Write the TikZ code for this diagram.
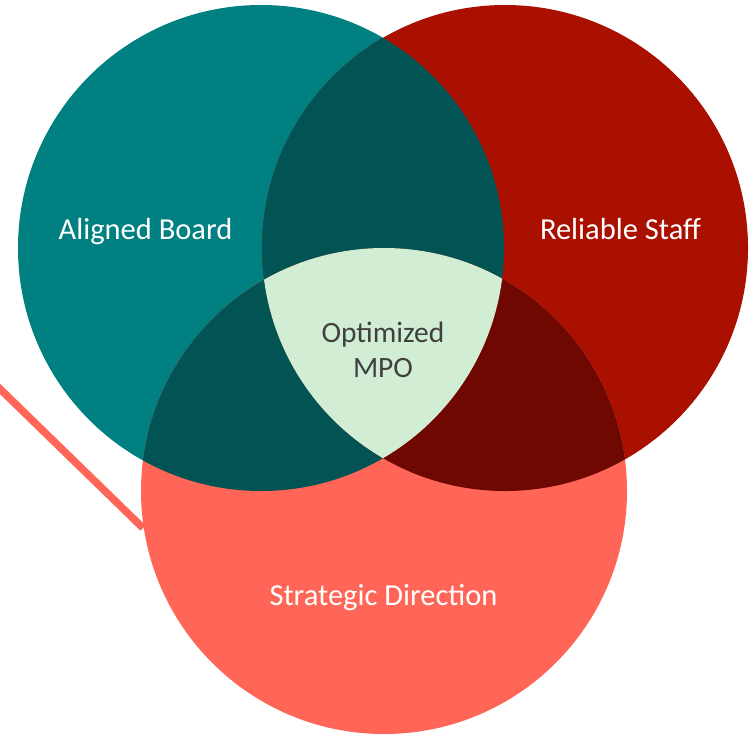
\documentclass[tikz,border=0pt]{standalone}
\usepackage{fontspec}
\setmainfont{Carlito}
\definecolor{boardteal}{RGB}{0,128,128}
\definecolor{staffred}{RGB}{170,16,0}
\definecolor{dirsalmon}{RGB}{255,102,87}
\definecolor{deepteal}{RGB}{2,83,83}
\definecolor{deepred}{RGB}{110,8,0}
\definecolor{mpogreen}{RGB}{209,238,212}
\definecolor{mpotext}{RGB}{64,64,64}

\begin{document}
\begin{tikzpicture}[x=1pt,y=-1pt]
\tikzset{setlabel/.style={anchor=base,text=white,font=\fontsize{30.5}{36}\selectfont}}
\useasboundingbox (0,0) rectangle (751,734);
% Centres of the three sets
\coordinate (board) at (261,248);
\coordinate (staff) at (505,248);
\coordinate (direction) at (384,491);
\def\rad{243}
% The stray line running off to the left
\coordinate (tailstart) at (-3,386);
\coordinate (tailend) at (143,528);
\draw[dirsalmon,line width=7.5pt] (tailstart) -- (tailend);
% Then the three circles
\fill[boardteal] (board) circle[radius=\rad];
\fill[staffred] (staff) circle[radius=\rad];
\fill[dirsalmon] (direction) circle[radius=\rad];
% Pairwise overlaps
\begin{scope}
\clip (board) circle[radius=\rad];
\fill[deepteal] (staff) circle[radius=\rad];
\fill[deepteal] (direction) circle[radius=\rad];
\end{scope}
\begin{scope}
\clip (staff) circle[radius=\rad];
\fill[deepred] (direction) circle[radius=\rad];
\end{scope}
% The middle bit where all three meet
\begin{scope}
\clip (board) circle[radius=\rad];
\clip (staff) circle[radius=\rad];
\fill[mpogreen] (direction) circle[radius=\rad];
\end{scope}
% Labels (base of a two-line node is its last line)
\node[setlabel] (boardlabel) at (145.5,239) {Aligned Board};
\node[setlabel] (stafflabel) at (620.5,239) {Reliable Staff};
\node[setlabel] (directionlabel) at (383.5,605) {Strategic Direction};
\node[anchor=base,text=mpotext,align=center,font=\fontsize{29.5}{35}\selectfont] (mpolabel) at (383,377) {Optimized\\MPO};
\end{tikzpicture}
\end{document}
